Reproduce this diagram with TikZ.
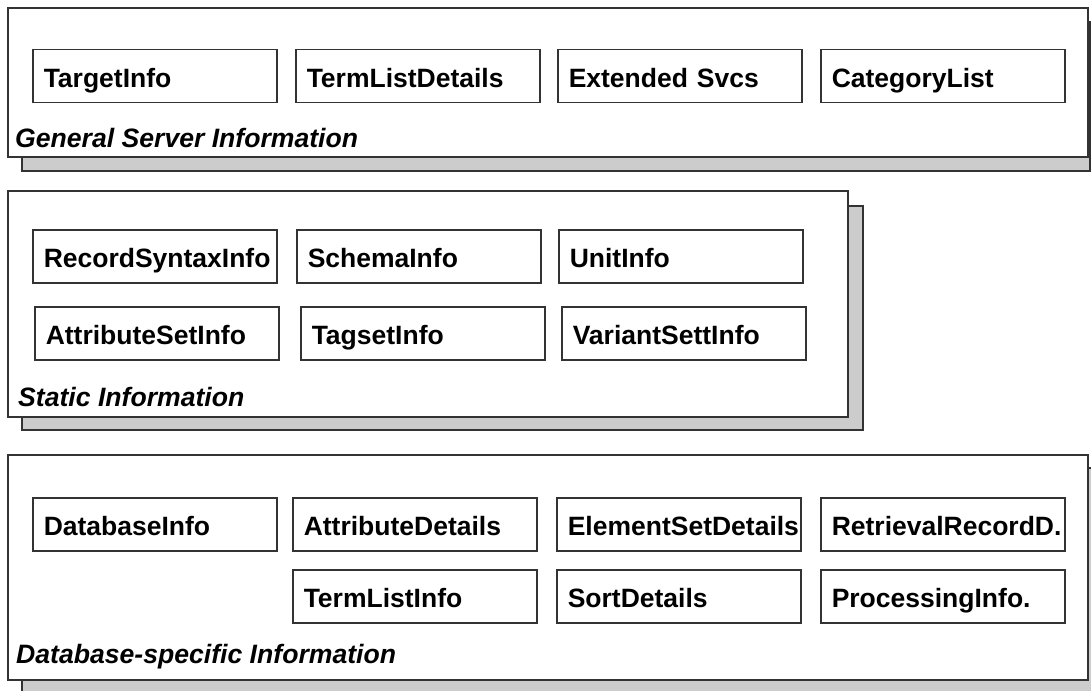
\documentclass[tikz,border=0pt]{standalone}
\usepackage{fontspec}
\setmainfont{Liberation Sans}
\begin{document}
\begin{tikzpicture}[x=1pt,y=-1pt,
  frame/.style={draw=black!80, line width=1.5pt, fill=white},
  shadowbox/.style={draw=black!80, line width=1.5pt, fill=black!20},
  item/.style={draw=black!80, line width=1.5pt, fill=white, anchor=north west,
    minimum width=244pt, minimum height=53pt, text width=222pt, inner xsep=11pt,
    align=left, text height=23pt, text depth=0pt,
    font=\fontsize{26.5}{30}\selectfont\bfseries},
  grouptitle/.style={anchor=base west, inner sep=0pt,
    font=\fontsize{26.6}{30}\selectfont\bfseries\itshape}]
\useasboundingbox (0,0) rectangle (1091,690);

% General server information
\draw[shadowbox] (22,22) rectangle (1090,171);
\draw[frame] (8,8) rectangle (1088,157);
\node[item] (targetinfo) at (32,49) {TargetInfo};
\node[item] (termlistdetails) at (295,49) {TermListDetails};
\node[item] (extsvcs) at (557,49) {Extended Svcs};
\node[item] (categorylist) at (820,49) {CategoryList};
\node[grouptitle] (general) at (15,147) {General Server Information};

% Static information
\draw[shadowbox] (22,206) rectangle (863,430);
\draw[frame] (8,191) rectangle (848,417);
\node[item] (recordsyntax) at (32,229) {RecordSyntaxInfo};
\node[item] (schemainfo) at (296,229) {SchemaInfo};
\node[item] (unitinfo) at (558,229) {UnitInfo};
\node[item] (attrsetinfo) at (34,306) {AttributeSetInfo};
\node[item] (tagsetinfo) at (300,306) {TagsetInfo};
\node[item] (variantinfo) at (561,306) {VariantSettInfo};
\node[grouptitle] (static) at (18,406) {Static Information};

% Database-specific information
\draw[shadowbox] (22,468) rectangle (1102,700);
\draw[frame] (8,455) rectangle (1088,680);
\node[item] (databaseinfo) at (32,497) {DatabaseInfo};
\node[item] (attrdetails) at (292,497) {AttributeDetails};
\node[item] (elemsetdetails) at (556,497) {ElementSetDetails};
\node[item] (retrievalrec) at (820,497) {RetrievalRecordD.};
\node[item] (termlistinfo) at (292,569) {TermListInfo};
\node[item] (sortdetails) at (556,569) {SortDetails};
\node[item] (processinginfo) at (820,569) {ProcessingInfo.};
\node[grouptitle] (dbspecific) at (16,663) {Database-specific Information};
\end{tikzpicture}
\end{document}
